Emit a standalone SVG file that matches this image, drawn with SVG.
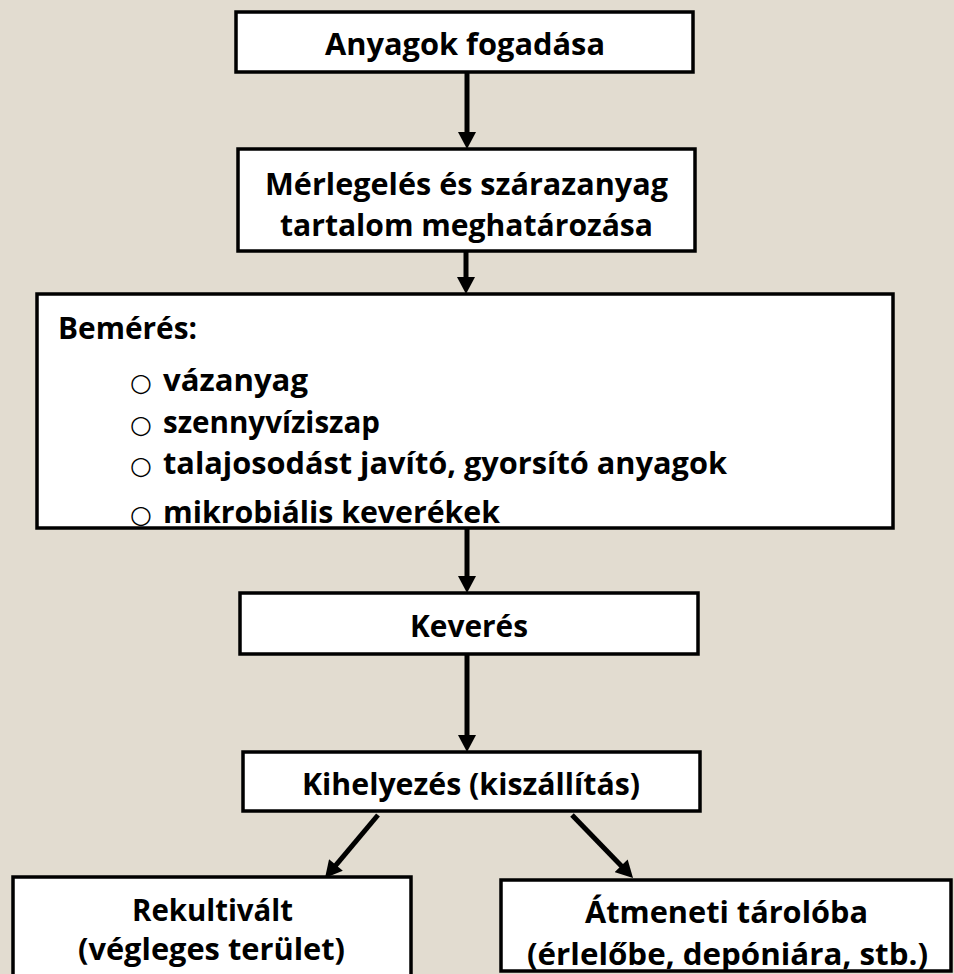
<svg xmlns="http://www.w3.org/2000/svg" width="954" height="974" viewBox="0 0 954 974">
<style>
.bg{fill:#E2DCD0}
.box{fill:#FFFFFF;stroke:#000000;stroke-width:3.5}
.t{font-family:"Open Sans","Noto Sans","Liberation Sans",sans-serif;font-weight:700;font-size:31px;fill:#000000;font-variant-ligatures:none}
.b{font-family:"DejaVu Sans",sans-serif;font-size:25px;fill:#000000}
.conn{stroke:#000000;stroke-width:5;fill:none;marker-end:url(#ah)}
</style>
<defs>
<marker id="ah" markerUnits="userSpaceOnUse" markerWidth="18" markerHeight="18" viewBox="0 0 17 18" refX="1" refY="9" orient="auto">
<path d="M0,0 L17,9 L0,18 z" fill="#000000"/>
</marker>
</defs>
<rect class="bg" x="0" y="0" width="954" height="974"/>
<g id="connectors">
<line class="conn" x1="467" y1="72" x2="467" y2="133"/>
<line class="conn" x1="466" y1="251" x2="466" y2="278"/>
<line class="conn" x1="467" y1="528" x2="467" y2="577"/>
<line class="conn" x1="467" y1="654" x2="467" y2="736"/>
<line class="conn" x1="378" y1="815" x2="335.3" y2="865.8"/>
<line class="conn" x1="572" y1="815" x2="621.9" y2="866.5"/>
</g>
<g id="n1">
<rect class="box" x="236" y="12" width="457" height="60"/>
<text class="t" x="325" y="55" textLength="280" lengthAdjust="spacingAndGlyphs">Anyagok fogadása</text>
</g>
<g id="n2">
<rect class="box" x="238" y="149" width="457" height="102"/>
<text class="t" x="265" y="195" textLength="403" lengthAdjust="spacingAndGlyphs">Mérlegelés és szárazanyag</text>
<text class="t" x="280" y="236" textLength="373" lengthAdjust="spacingAndGlyphs">tartalom meghatározása</text>
</g>
<g id="n3">
<rect class="box" x="37" y="294" width="856" height="234"/>
<text class="t" x="58" y="339" textLength="139" lengthAdjust="spacingAndGlyphs">Bemérés:</text>
<text class="b" x="130" y="391">○</text>
<text class="t" x="163" y="391" textLength="145" lengthAdjust="spacingAndGlyphs">vázanyag</text>
<text class="b" x="130" y="433">○</text>
<text class="t" x="163" y="433" textLength="217" lengthAdjust="spacingAndGlyphs">szennyvíziszap</text>
<text class="b" x="130" y="474">○</text>
<text class="t" x="163" y="474" textLength="564" lengthAdjust="spacingAndGlyphs">talajosodást javító, gyorsító anyagok</text>
<text class="b" x="130" y="523">○</text>
<text class="t" x="163" y="523" textLength="337" lengthAdjust="spacingAndGlyphs">mikrobiális keverékek</text>
</g>
<g id="n4">
<rect class="box" x="240" y="593" width="458" height="61"/>
<text class="t" x="410" y="637" textLength="118" lengthAdjust="spacingAndGlyphs">Keverés</text>
</g>
<g id="n5">
<rect class="box" x="243" y="752" width="457" height="59"/>
<text class="t" x="302" y="795" textLength="338" lengthAdjust="spacingAndGlyphs">Kihelyezés (kiszállítás)</text>
</g>
<g id="n6">
<rect class="box" x="13" y="877" width="398" height="110"/>
<text class="t" x="132" y="921" textLength="161" lengthAdjust="spacingAndGlyphs">Rekultivált</text>
<text class="t" x="78" y="960" textLength="267" lengthAdjust="spacingAndGlyphs">(végleges terület)</text>
</g>
<g id="n7">
<rect class="box" x="501" y="880" width="450" height="91"/>
<text class="t" x="585" y="923" textLength="283" lengthAdjust="spacingAndGlyphs">Átmeneti tárolóba</text>
<text class="t" x="527" y="965" textLength="401" lengthAdjust="spacingAndGlyphs">(érlelőbe, depóniára, stb.)</text>
</g>
</svg>
